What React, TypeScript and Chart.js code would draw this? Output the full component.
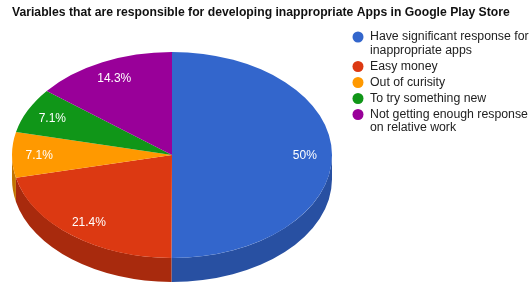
import React, { useEffect, useRef } from 'react';
import { Chart, registerables } from 'chart.js';

Chart.register(...registerables);

const TITLE = 'Variables that are responsible for developing inappropriate Apps in Google Play Store';
const CATEGORIES = [
  'Have significant response for inappropriate apps',
  'Easy money',
  'Out of curisity',
  'To try something new',
  'Not getting enough response on relative work',
];
const LEGEND_LINES = [
  ['Have significant response for', 'inappropriate apps'],
  ['Easy money'],
  ['Out of curisity'],
  ['To try something new'],
  ['Not getting enough response', 'on relative work'],
];
const VALUES = [50, 21.4, 7.1, 7.1, 14.3];
const PERCENT_LABELS = ['50%', '21.4%', '7.1%', '7.1%', '14.3%'];
const COLORS = ['#3366cc', '#dc3912', '#ff9900', '#109618', '#990099'];
const SIDE_COLORS = ['#2850a2', '#a82a0d', '#c27400', '#0c7212', '#730073'];

const FONT = "Arial, 'Liberation Sans', sans-serif";

const pie3d = {
  id: 'pie3d',
  beforeDatasetsDraw(chart: any) {
    const ctx = chart.ctx;
    const ca = chart.chartArea;
    const depth = 24;
    const rx = ca.width / 2;
    const ry = (ca.height - depth) / 2;
    const cx = (ca.left + ca.right) / 2;
    const cy = ca.top + ry;
    chart.$geo = { rx, ry, cx, cy, depth };
    const meta = chart.getDatasetMeta(0);
    meta.data.forEach((el: any, i: number) => {
      const s = Math.max(el.startAngle, 0);
      const e = Math.min(el.endAngle, Math.PI);
      if (e <= s) return;
      ctx.save();
      ctx.beginPath();
      ctx.ellipse(cx, cy, rx, ry, 0, s, e);
      ctx.lineTo(cx + rx * Math.cos(e), cy + ry * Math.sin(e) + depth);
      ctx.ellipse(cx, cy + depth, rx, ry, 0, e, s, true);
      ctx.closePath();
      ctx.fillStyle = SIDE_COLORS[i];
      ctx.fill();
      ctx.restore();
    });
    const el0 = meta.data[0];
    const r = el0.outerRadius;
    ctx.save();
    ctx.translate(cx, cy);
    ctx.scale(rx / r, ry / r);
    ctx.translate(-el0.x, -el0.y);
  },
  afterDatasetsDraw(chart: any) {
    const ctx = chart.ctx;
    ctx.restore();
    const { rx, ry, cx, cy } = chart.$geo;
    const meta = chart.getDatasetMeta(0);
    ctx.save();
    ctx.fillStyle = '#ffffff';
    ctx.font = `12px ${FONT}`;
    ctx.textAlign = 'center';
    ctx.textBaseline = 'middle';
    meta.data.forEach((el: any, i: number) => {
      const mid = (el.startAngle + el.endAngle) / 2;
      const f = 0.83;
      ctx.fillText(PERCENT_LABELS[i], cx + f * rx * Math.cos(mid), cy + 1 + f * ry * Math.sin(mid));
    });
    ctx.restore();
  },
  afterDraw(chart: any) {
    const ctx = chart.ctx;
    ctx.save();
    // title
    ctx.font = `bold 12.2px ${FONT}`;
    ctx.fillStyle = '#111111';
    ctx.textBaseline = 'middle';
    ctx.textAlign = 'left';
    ctx.fillText(TITLE, 12, 13);
    // legend
    const x0 = 358;
    let y = 37;
    ctx.font = `12.3px ${FONT}`;
    LEGEND_LINES.forEach((lines, i) => {
      ctx.beginPath();
      ctx.arc(x0, y, 5.5, 0, Math.PI * 2);
      ctx.fillStyle = COLORS[i];
      ctx.fill();
      ctx.fillStyle = '#222222';
      lines.forEach((ln, j) => {
        ctx.fillText(ln, x0 + 12, y + j * 13.5);
      });
      y += (lines.length - 1) * 13.5 + 16;
    });
    ctx.restore();
  },
};

export default function App() {
  const ref = useRef<HTMLCanvasElement>(null);
  useEffect(() => {
    document.body.style.margin = '0';
    const chart = new Chart(ref.current as HTMLCanvasElement, {
      type: 'pie',
      data: {
        labels: CATEGORIES,
        datasets: [
          {
            data: VALUES,
            backgroundColor: COLORS,
            borderWidth: 0,
            clip: false as any,
          },
        ],
      },
      options: {
        responsive: false,
        animation: false,
        layout: { padding: { left: 12, right: 198, top: 52, bottom: 6 } },
        plugins: {
          legend: { display: false },
          tooltip: { enabled: false },
          title: { display: false },
        },
      },
      plugins: [pie3d],
    });
    return () => chart.destroy();
  }, []);
  return (
    <div style={{ width: 530, height: 288 }}>
      <canvas ref={ref} width={530} height={288} />
    </div>
  );
}
